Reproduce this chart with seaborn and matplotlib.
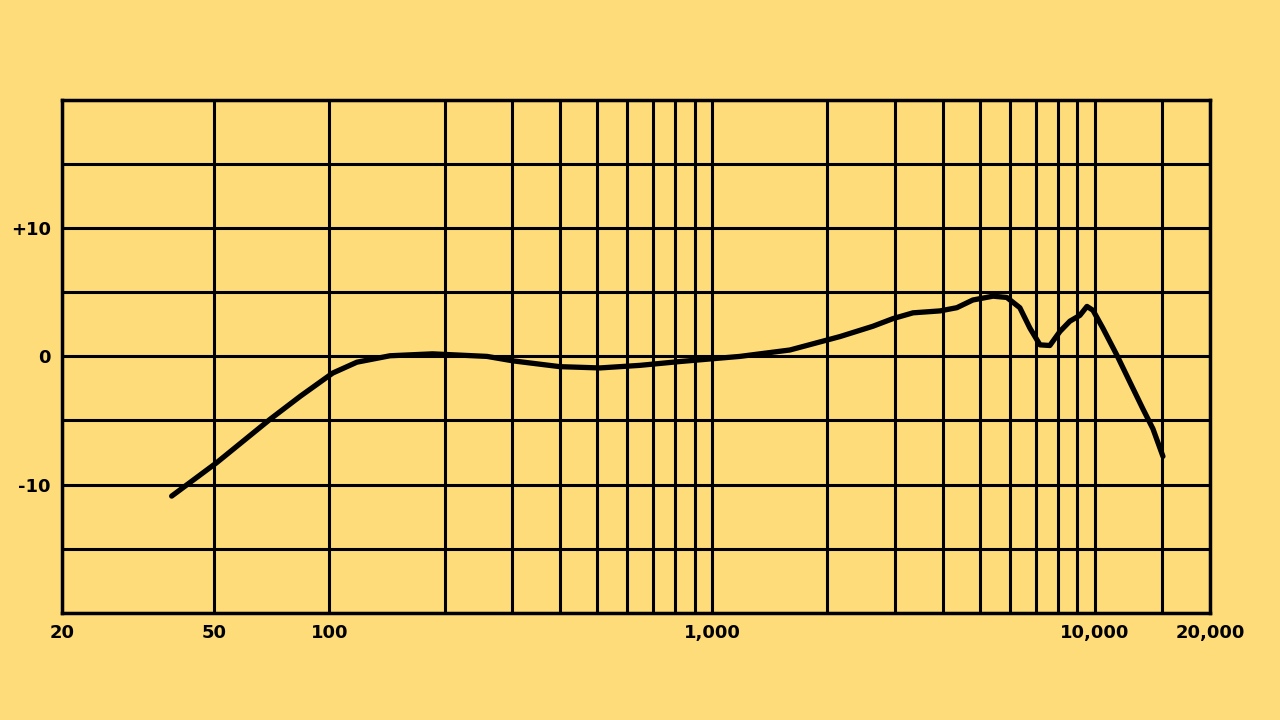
import numpy as np
import pandas as pd
import matplotlib
matplotlib.use("Agg")
import matplotlib.pyplot as plt
import seaborn as sns

# ----------------------------
# Data (Hz, dB)
# ----------------------------
freq_hz = [38.7, 50.7, 70, 84, 102, 118, 144, 186, 258, 302, 400, 509, 647,
           824, 1182, 1597, 2160, 2630, 2970, 3350, 3940, 4360, 4800, 5420,
           5890, 6370, 6770, 7190, 7630, 8110, 8610, 9140, 9540, 9890, 10500,
           11420, 12350, 13360, 14190, 15070]
level_db = [-10.9, -8.3, -4.9, -3.1, -1.3, -0.45, 0.05, 0.2, 0.0, -0.35, -0.8,
            -0.9, -0.7, -0.4, 0.0, 0.5, 1.55, 2.35, 2.95, 3.4, 3.55, 3.8, 4.4,
            4.7, 4.6, 3.8, 2.2, 0.9, 0.85, 1.95, 2.75, 3.2, 3.9, 3.6, 2.2,
            0.1, -2.0, -4.1, -5.65, -7.8]

grid_freqs = [20, 50, 100, 200, 300, 400, 500, 600, 700, 800, 900, 1000,
              2000, 3000, 4000, 5000, 6000, 7000, 8000, 9000, 10000, 15000, 20000]
grid_db = [-20, -15, -10, -5, 0, 5, 10, 15, 20]

x_ticks = [20, 50, 100, 1000, 10000, 20000]
x_labels = ["20", "50", "100", "1,000", "10,000", "20,000"]
y_ticks = [-10, 0, 10]
y_labels = ["-10", "0", "+10"]

df = pd.DataFrame({"freq": freq_hz, "db": level_db})

bg = "#fddc79"
sns.set_style("white")
plt.rcParams['font.family'] = ['DejaVu Sans']

fig = plt.figure(figsize=(12.8, 7.2), dpi=100, facecolor=bg)
ax = fig.add_axes([0.0484, 0.149, 0.8969, 0.712])
ax.set_facecolor(bg)

# chart-paper grid
for f in grid_freqs:
    ax.axvline(f, color="black", lw=2.2, zorder=1)
for d in grid_db:
    ax.axhline(d, color="black", lw=2.2, zorder=1)

sns.lineplot(data=df, x="freq", y="db", ax=ax, color="black", lw=3.8,
             solid_capstyle="round", solid_joinstyle="round", zorder=3)

ax.set_xscale("log")
ax.set_xlim(20, 20000)
ax.set_ylim(-20, 20)
ax.set_xticks(x_ticks)
ax.set_xticklabels(x_labels)
ax.minorticks_off()
ax.set_yticks(y_ticks)
ax.set_yticklabels(y_labels)
ax.tick_params(length=0, labelsize=13, pad=8, labelcolor="black")
for lbl in ax.get_xticklabels() + ax.get_yticklabels():
    lbl.set_fontweight("bold")
ax.set_xlabel("")
ax.set_ylabel("")
for s in ax.spines.values():
    s.set_color("black")
    s.set_linewidth(2.5)

fig.savefig("out.png", dpi=100, facecolor=bg)
